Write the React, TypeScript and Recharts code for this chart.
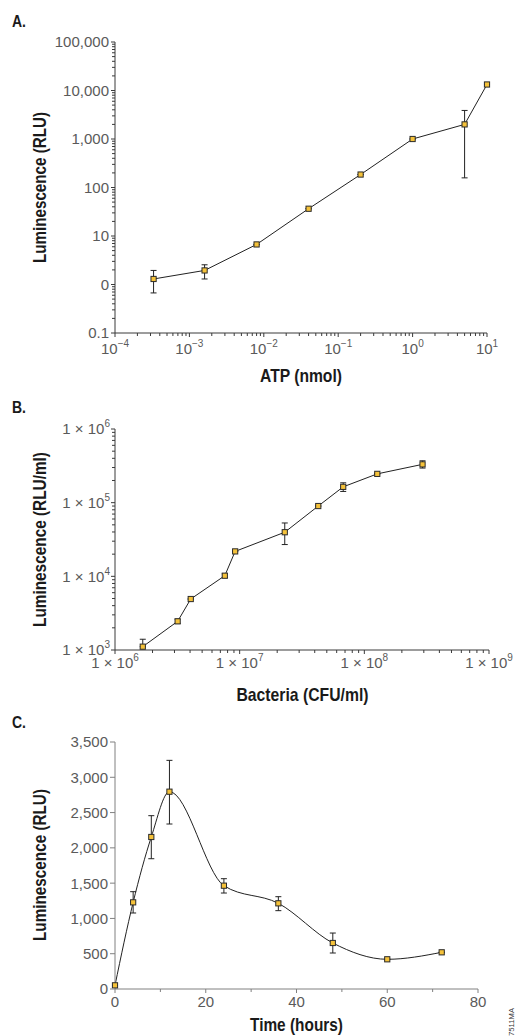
import React from 'react';
import { LineChart, Line, XAxis, YAxis, ErrorBar } from 'recharts';

// ---------- Panel A: ATP standard curve ----------
const atpNmol = [0.00033, 0.0016, 0.008, 0.04, 0.2, 1, 5, 10];
const atpRlu = [1.3, 1.95, 6.7, 36.5, 185, 1000, 2000, 13300];
const atpRluLow = [0.67, 1.3, 6.7, 36.5, 185, 1000, 158, 13300];
const atpRluHigh = [1.95, 2.55, 6.7, 36.5, 185, 1000, 3880, 13300];
const atpYTicks = [0.1, 1, 10, 100, 1000, 10000, 100000];
const atpYTickLabels = ['0.1', '0', '10', '100', '1,000', '10,000', '100,000'];
const atpXTicks = [0.0001, 0.001, 0.01, 0.1, 1, 10];
const atpXTickExponents = ['\u22124', '\u22123', '\u22122', '\u22121', '0', '1'];

// ---------- Panel B: bacteria ----------
const bacCfu = [1.67e6, 3.18e6, 4.05e6, 7.6e6, 9.2e6, 2.3e7, 4.27e7, 6.77e7, 1.27e8, 2.93e8];
const bacRlu = [1110, 2450, 4920, 10200, 21800, 39700, 90000, 164000, 246000, 331000];
const bacRluLow = [1110, 2300, 4920, 9600, 21800, 27000, 90000, 142000, 246000, 295000];
const bacRluHigh = [1400, 2620, 4920, 10800, 21800, 53000, 90000, 186000, 246000, 370000];
const bacYTicks = [1e3, 1e4, 1e5, 1e6];
const bacYTickExponents = ['3', '4', '5', '6'];
const bacXTicks = [1e6, 1e7, 1e8, 1e9];
const bacXTickExponents = ['6', '7', '8', '9'];

// ---------- Panel C: time course ----------
const timeHours = [0, 4, 8, 12, 24, 36, 48, 60, 72];
const timeRlu = [52, 1228, 2154, 2796, 1464, 1214, 652, 421, 520];
const timeRluLow = [52, 1077, 1846, 2338, 1360, 1110, 510, 421, 520];
const timeRluHigh = [52, 1379, 2456, 3240, 1563, 1308, 793, 421, 520];
const timeYTicks = [0, 500, 1000, 1500, 2000, 2500, 3000, 3500];
const timeYTickLabels = ['0', '500', '1,000', '1,500', '2,000', '2,500', '3,000', '3,500'];
const timeXTicks = [0, 10, 20, 30, 40, 50, 60, 70, 80];
const timeXMajorTicks = [0, 20, 40, 60, 80];
const timeXTickLabels = ['0', '20', '40', '60', '80'];

const MINOR_MULTS = [2, 3, 4, 5, 6, 7, 8, 9];

const TICK_FONT = "'Liberation Sans', Arial, Helvetica, sans-serif";
const TITLE_FONT = "'Liberation Sans', Arial, sans-serif";
const TICK_COLOR = '#5a5a5a';
const AXIS_DARK = '#3a3a3a';
const AXIS_GRAY = '#808080';

function withMinors(majors: number[]): number[] {
  const out: number[] = [];
  majors.forEach((m, i) => {
    out.push(m);
    if (i < majors.length - 1) MINOR_MULTS.forEach((k) => out.push(m * k));
  });
  return out;
}

function findMajor(majors: number[], v: number, log: boolean) {
  return majors.findIndex((m) =>
    log ? Math.abs(Math.log10(m) - Math.log10(v)) < 1e-6 : Math.abs(m - v) < 1e-9,
  );
}

function sup(base: string, exp: string) {
  return [
    <tspan key="b">{base}</tspan>,
    <tspan key="e" dy={-7} fontSize={10}>{exp}</tspan>,
  ];
}

const makeYTick = (majors: number[], labels: (i: number) => React.ReactNode, color: string, log: boolean, majorLen: number, minorLen: number, gap: number) =>
  (props: any) => {
    const { x, y, payload } = props;
    const idx = findMajor(majors, payload.value, log);
    const major = idx >= 0;
    return (
      <g>
        <line x1={x} x2={x - (major ? majorLen : minorLen)} y1={y} y2={y} stroke={color} strokeWidth={1} />
        {major && (
          <text x={x - gap} y={y} dy="0.36em" textAnchor="end" fontFamily={TICK_FONT} fontSize={15} fill={TICK_COLOR}>
            {labels(idx)}
          </text>
        )}
      </g>
    );
  };

const makeXTick = (majors: number[], labels: (i: number) => React.ReactNode, color: string, log: boolean, majorLen: number, minorLen: number, baseline: number) =>
  (props: any) => {
    const { x, y, payload } = props;
    const idx = findMajor(majors, payload.value, log);
    const major = idx >= 0;
    return (
      <g>
        <line x1={x} x2={x} y1={y} y2={y + (major ? majorLen : minorLen)} stroke={color} strokeWidth={1} />
        {major && (
          <text x={x} y={y + baseline} textAnchor="middle" fontFamily={TICK_FONT} fontSize={15} fill={TICK_COLOR}>
            {labels(idx)}
          </text>
        )}
      </g>
    );
  };

const squareDot = (props: any) => {
  const { cx, cy, index } = props;
  if (cx == null || cy == null) return <g key={`d${index}`} />;
  return (
    <rect key={`d${index}`} x={cx - 2.6} y={cy - 2.6} width={5.2} height={5.2} fill="#f5c23a" stroke="#2a2a2a" strokeWidth={1} />
  );
};

const atpData = atpNmol.map((x, i) => ({ x, y: atpRlu[i], err: [atpRlu[i] - atpRluLow[i], atpRluHigh[i] - atpRlu[i]] }));
const bacData = bacCfu.map((x, i) => ({ x, y: bacRlu[i], err: [bacRlu[i] - bacRluLow[i], bacRluHigh[i] - bacRlu[i]] }));
const timeData = timeHours.map((x, i) => ({ x, y: timeRlu[i], err: [timeRlu[i] - timeRluLow[i], timeRluHigh[i] - timeRlu[i]] }));

function Title(p: { x: number; y: number; w: number; size: number; rot?: boolean; anchor?: string; children: string }) {
  const common = {
    fontFamily: TITLE_FONT,
    fontWeight: 'bold' as const,
    fill: '#1a1a1a',
    fontSize: p.size,
    textLength: p.w,
    lengthAdjust: 'spacingAndGlyphs',
    textAnchor: p.anchor || 'middle',
  };
  if (p.rot) {
    return (
      <text transform={`translate(${p.x},${p.y}) rotate(-90)`} {...(common as any)}>
        {p.children}
      </text>
    );
  }
  return (
    <text x={p.x} y={p.y} {...(common as any)}>
      {p.children}
    </text>
  );
}

export default function App() {
  return (
    <div style={{ position: 'absolute', left: 0, top: 0, width: 516, height: 1036, background: '#fff', overflow: 'hidden' }}>
      {/* Panel A */}
      <div style={{ position: 'absolute', left: 0, top: 0 }}>
        <LineChart width={516} height={390} data={atpData} margin={{ top: 42, right: 29, left: 0, bottom: 0 }}>
          <XAxis
            dataKey="x"
            type="number"
            scale="log"
            domain={[0.0001, 10]}
            ticks={withMinors(atpXTicks)}
            interval={0}
            height={57}
            tickLine={false}
            tickSize={0}
            tickMargin={0}
            stroke={AXIS_DARK}
            tick={makeXTick(atpXTicks, (i) => sup('10', atpXTickExponents[i]), AXIS_DARK, true, 4, 3, 21)}
          />
          <YAxis
            dataKey="y"
            type="number"
            scale="log"
            domain={[0.1, 100000]}
            ticks={withMinors(atpYTicks)}
            interval={0}
            width={115}
            tickLine={false}
            tickSize={0}
            tickMargin={0}
            stroke={AXIS_DARK}
            tick={makeYTick(atpYTicks, (i) => atpYTickLabels[i], AXIS_DARK, true, 4, 3, 6)}
          />
          <Line dataKey="y" type="linear" stroke="#222" strokeWidth={1} dot={squareDot} isAnimationActive={false}>
            <ErrorBar dataKey="err" width={3} stroke="#222" strokeWidth={1} isAnimationActive={false} />
          </Line>
        </LineChart>
      </div>

      {/* Panel B */}
      <div style={{ position: 'absolute', left: 0, top: 390 }}>
        <LineChart width={516} height={300} data={bacData} margin={{ top: 39, right: 27, left: 0, bottom: 0 }}>
          <XAxis
            dataKey="x"
            type="number"
            scale="log"
            domain={[1e6, 1e9]}
            ticks={withMinors(bacXTicks)}
            interval={0}
            height={40}
            tickLine={false}
            tickSize={0}
            tickMargin={0}
            stroke={AXIS_DARK}
            tick={makeXTick(bacXTicks, (i) => sup('1 \u00d7 10', bacXTickExponents[i]), AXIS_DARK, true, 4, 3, 18)}
          />
          <YAxis
            dataKey="y"
            type="number"
            scale="log"
            domain={[1e3, 1e6]}
            ticks={withMinors(bacYTicks)}
            interval={0}
            width={115}
            tickLine={false}
            tickSize={0}
            tickMargin={0}
            stroke={AXIS_DARK}
            tick={makeYTick(bacYTicks, (i) => sup('1 \u00d7 10', bacYTickExponents[i]), AXIS_DARK, true, 4, 3, 5)}
          />
          <Line dataKey="y" type="linear" stroke="#222" strokeWidth={1} dot={squareDot} isAnimationActive={false}>
            <ErrorBar dataKey="err" width={3} stroke="#222" strokeWidth={1} isAnimationActive={false} />
          </Line>
        </LineChart>
      </div>

      {/* Panel C */}
      <div style={{ position: 'absolute', left: 0, top: 700 }}>
        <LineChart width={516} height={336} data={timeData} margin={{ top: 42, right: 38, left: 0, bottom: 0 }}>
          <XAxis
            dataKey="x"
            type="number"
            domain={[0, 80]}
            ticks={timeXTicks}
            interval={0}
            height={47}
            tickLine={false}
            tickSize={0}
            tickMargin={0}
            stroke={AXIS_GRAY}
            tick={makeXTick(timeXMajorTicks, (i) => timeXTickLabels[i], AXIS_GRAY, false, 4, 3, 18)}
          />
          <YAxis
            dataKey="y"
            type="number"
            domain={[0, 3500]}
            ticks={timeYTicks}
            interval={0}
            width={115}
            tickLine={false}
            tickSize={0}
            tickMargin={0}
            stroke={AXIS_GRAY}
            tick={makeYTick(timeYTicks, (i) => timeYTickLabels[i], AXIS_GRAY, false, 5, 5, 7)}
          />
          <Line dataKey="y" type="monotone" stroke="#222" strokeWidth={1} dot={squareDot} isAnimationActive={false}>
            <ErrorBar dataKey="err" width={3} stroke="#222" strokeWidth={1} isAnimationActive={false} />
          </Line>
        </LineChart>
      </div>

      {/* Titles and panel letters */}
      <svg width={516} height={1036} style={{ position: 'absolute', left: 0, top: 0, pointerEvents: 'none' }}>
        <Title x={12} y={27} w={14} size={17} anchor="start">A.</Title>
        <Title x={301} y={382} w={82} size={19}>ATP (nmol)</Title>
        <Title x={46} y={187.5} w={151} size={18.5} rot>Luminescence (RLU)</Title>

        <Title x={12} y={413} w={14} size={17} anchor="start">B.</Title>
        <Title x={302.5} y={701} w={132} size={19}>Bacteria (CFU/ml)</Title>
        <Title x={46} y={539.5} w={175} size={18.5} rot>Luminescence (RLU/ml)</Title>

        <Title x={12} y={728} w={14} size={17} anchor="start">C.</Title>
        <Title x={296.5} y={1031} w={93} size={19}>Time (hours)</Title>
        <Title x={46} y={865} w={152} size={18.5} rot>Luminescence (RLU)</Title>

        <text transform="translate(514,1022) rotate(-90)" fontFamily={TICK_FONT} fontSize={8} fill="#333" textAnchor="middle" textLength={28} lengthAdjust="spacingAndGlyphs">7511MA</text>
      </svg>
    </div>
  );
}
